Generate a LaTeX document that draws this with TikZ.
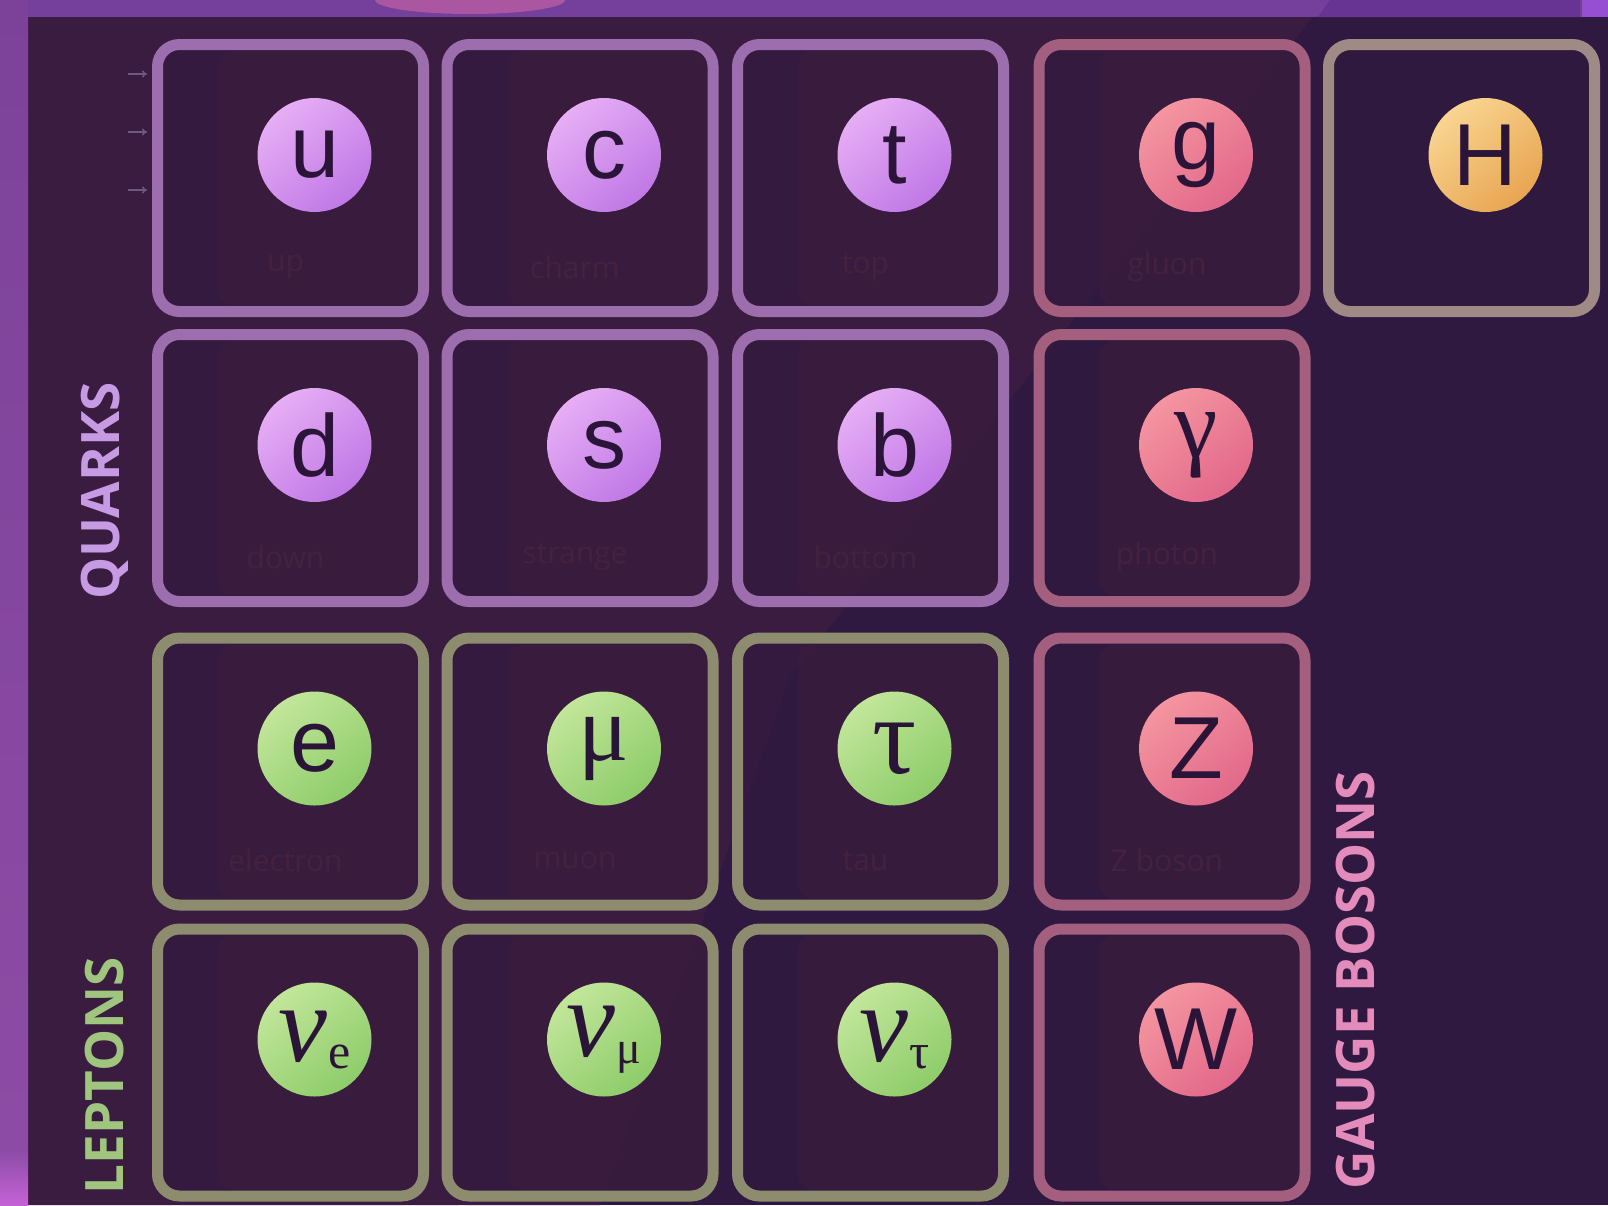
\documentclass[tikz,border=0pt]{standalone}
\usepackage{fontspec}
\setmainfont{Liberation Sans}
\newfontfamily\lblfont{Open Sans}
\newfontfamily\serifgr{Liberation Serif}
\usetikzlibrary{calc,arrows.meta}

\definecolor{panelR}{HTML}{2F1941}
\definecolor{panelL}{HTML}{391C40}
\definecolor{boxfill}{HTML}{2F1A3E}
\definecolor{cardfill}{HTML}{421F3C}
\definecolor{qborder}{HTML}{9C6EAE}
\definecolor{lborder}{HTML}{8E8C6E}
\definecolor{bborder}{HTML}{A45F7E}
\definecolor{hborder}{HTML}{A08A86}
\definecolor{qtxt}{HTML}{C69BE3}
\definecolor{ltxt}{HTML}{9FC57E}
\definecolor{btxt}{HTML}{E38BBB}
\definecolor{qctop}{HTML}{E6AEF4}
\definecolor{qcbot}{HTML}{C078E6}
\definecolor{lctop}{HTML}{C2E69A}
\definecolor{lcbot}{HTML}{8ECC6A}
\definecolor{bctop}{HTML}{F495A0}
\definecolor{bcbot}{HTML}{E2688A}
\definecolor{hctop}{HTML}{F8D592}
\definecolor{hcbot}{HTML}{E8A552}
\definecolor{symc}{HTML}{2A1438}
\definecolor{ghostc}{HTML}{44223F}
\definecolor{arrowc}{HTML}{6D5A7E}
\definecolor{bandc}{HTML}{74409C}
\definecolor{stripc}{HTML}{7C4299}

\newcommand{\pcell}[7]{%
  \node[pbox=#4] (b#1) at (#2,#3) {};
  \fill[cardfill, fill opacity=0.45, rounded corners=14pt]
    ($(b#1.north west)+(66,12)$) rectangle ($(b#1.south east)+(-12,-12)$);
  \node[#5] (c#1) at ($(b#1.center)+(24,-23)$) {#6};
  \node[ghost] (l#1) at ($(b#1.center)+(-5,89)$) {#7};
}
\newcommand{\grk}[2]{{\serifgr\fontsize{#1}{#1}\selectfont #2}}
\newcommand{\nusym}[2]{{\serifgr\itshape\fontsize{110}{110}\selectfont ν}\kern1pt{\serifgr\fontsize{#1}{#1}\selectfont\raisebox{-7pt}{#2}}}

\begin{document}
\begin{tikzpicture}[x=1pt,y=-1pt,
  pbox/.style={draw=#1, line width=11pt, rounded corners=22pt,
    minimum width=266pt, minimum height=267pt, inner sep=0pt,
    fill=boxfill, fill opacity=0.55, draw opacity=1},
  pcirc/.style={circle, inner sep=0pt, minimum size=114pt, text=symc,
    font=\fontsize{88}{94}\selectfont},
  qc/.style={pcirc, top color=qctop, bottom color=qcbot, shading angle=40},
  lc/.style={pcirc, top color=lctop, bottom color=lcbot, shading angle=40},
  bc/.style={pcirc, top color=bctop, bottom color=bcbot, shading angle=40},
  hc/.style={pcirc, top color=hctop, bottom color=hcbot, shading angle=40},
  ghost/.style={text=ghostc, font=\lblfont\fontsize{30}{34}\selectfont},
  grp/.style={rotate=90, font=\lblfont\bfseries\fontsize{53}{60}\selectfont},
  tickarrow/.style={draw=arrowc, line width=1.4pt, -{To[length=5pt,width=7pt]}}
]
\useasboundingbox (0,0) rectangle (1608,1205);

% background frame
\fill[panelR] (0,0) rectangle (1608,1205);
\fill[panelL] (28,17) -- (1313,17) -- (790,677) -- (600,1205) -- (28,1205) -- cycle;
\fill[bandc] (0,0) rectangle (1608,17);
\begin{scope}
  \clip (0,0) rectangle (1608,17);
  \fill[color={rgb,255:red,170;green,86;blue,160}] (470,0) ellipse [x radius=95, y radius=14];
  \fill[color={rgb,255:red,104;green,52;blue,148}] (1330,0) -- (1580,0) -- (1580,17) -- (1318,17) -- cycle;
  \fill[color={rgb,255:red,150;green,78;blue,210}] (1582,0) rectangle (1608,17);
\end{scope}
\shade[top color=stripc, bottom color={rgb,255:red,140;green,76;blue,165}] (0,0) rectangle (28,1150);
\shade[top color={rgb,255:red,140;green,76;blue,165}, bottom color={rgb,255:red,196;green,98;blue,214}] (0,1150) rectangle (28,1205);

% small arrows
\coordinate (a1s) at (128,74);  \coordinate (a1e) at (147,74);
\coordinate (a2s) at (128,132); \coordinate (a2e) at (147,132);
\coordinate (a3s) at (128,190); \coordinate (a3e) at (147,190);
\draw[tickarrow] (a1s) -- (a1e);
\draw[tickarrow] (a2s) -- (a2e);
\draw[tickarrow] (a3s) -- (a3e);

% row 1
\pcell{u}{290.5}{178}{qborder}{qc}{u}{up}
\pcell{c}{580}{178}{qborder}{qc}{c}{charm}
\pcell{t}{870.5}{178}{qborder}{qc}{t}{top}
\pcell{g}{1172}{178}{bborder}{bc}{g}{gluon}
\node[pbox=hborder] (bH) at (1461.5,178) {};
\node[hc] (cH) at ($(bH.center)+(24,-23)$) {H};

% row 2
\pcell{d}{290.5}{468}{qborder}{qc}{d}{down}
\pcell{s}{580}{468}{qborder}{qc}{s}{strange}
\pcell{b}{870.5}{468}{qborder}{qc}{b}{bottom}
\pcell{ga}{1172}{468}{bborder}{bc}{\grk{98}{γ}}{photon}

% row 3
\pcell{e}{290.5}{771.5}{lborder}{lc}{e}{electron}
\pcell{mu}{580}{771.5}{lborder}{lc}{\grk{94}{μ}}{muon}
\pcell{ta}{870.5}{771.5}{lborder}{lc}{\grk{110}{τ}}{tau}
\pcell{Z}{1172}{771.5}{bborder}{bc}{Z}{Z boson}

% row 4
\pcell{ne}{290.5}{1062.5}{lborder}{lc}{\nusym{50}{e}}{}
\pcell{nm}{580}{1062.5}{lborder}{lc}{\nusym{46}{μ}}{}
\pcell{nt}{870.5}{1062.5}{lborder}{lc}{\nusym{50}{τ}}{}
\pcell{W}{1172}{1062.5}{bborder}{bc}{W}{}

% group labels
\node[grp, text=qtxt] (lq) at (105,491) {QUARKS};
\node[grp, text=ltxt] (ll) at (105,1076) {LEPTONS};
\node[grp, text=btxt] (lb) at (1356,980) {GAUGE BOSONS};
\end{tikzpicture}
\end{document}
